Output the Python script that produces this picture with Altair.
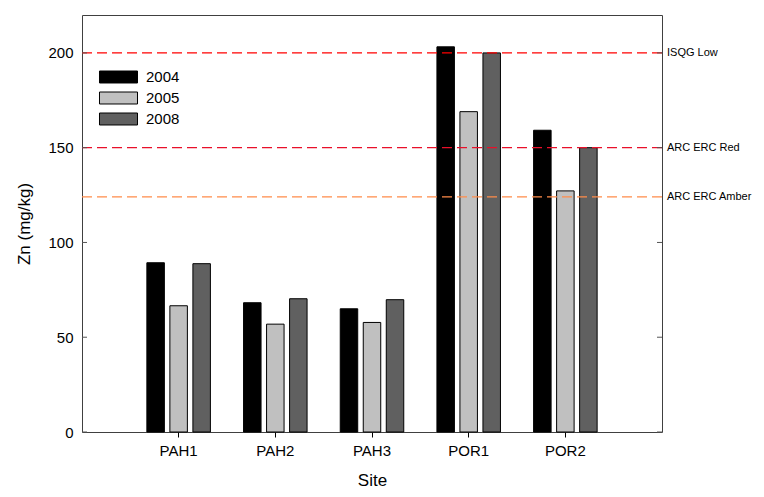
import altair as alt
import pandas as pd

sites = ["PAH1", "PAH2", "PAH3", "POR1", "POR2"]
years = ["2004", "2005", "2008"]
zn_2004 = [89.3, 68.2, 65.0, 203.2, 159.2]
zn_2005 = [66.6, 56.9, 57.8, 169.0, 127.2]
zn_2008 = [88.8, 70.3, 69.8, 200.0, 150.0]
year_colors = ["#000000", "#c0c0c0", "#606060"]

ref_labels = ["ISQG Low", "ARC ERC Red", "ARC ERC Amber"]
ref_values = [200, 150, 124]
ref_colors = ["#ff0000", "#e8102a", "#ff8c4a"]

y_ticks = [0, 50, 100, 150, 200]

rows = []
for yr, vals in zip(years, [zn_2004, zn_2005, zn_2008]):
    for s, v in zip(sites, vals):
        rows.append({"Site": s, "Year": yr, "Zn": v})
df = pd.DataFrame(rows)
refs = pd.DataFrame({"label": ref_labels, "value": ref_values, "color": ref_colors})
ticks = pd.DataFrame({"t": y_ticks})

W, H = 580, 417
FONT = "Liberation Sans"

yscale = alt.Scale(domain=[0, 220], nice=False, zero=True)

bars = alt.Chart(df).mark_bar(stroke="#000000", strokeWidth=1).encode(
    x=alt.X("Site:N", sort=sites, title="Site",
            scale=alt.Scale(paddingInner=0.343, paddingOuter=0.671),
            axis=alt.Axis(labelAngle=0, labelFontSize=15, titleFontSize=17,
                          tickSize=5, tickColor="#000000", labelPadding=6,
                          titlePadding=14, domain=False, grid=False,
                          labelColor="#000000", titleColor="#000000",
                          titleFontWeight="normal")),
    xOffset=alt.XOffset("Year:N", sort=years,
                        scale=alt.Scale(paddingInner=0.24, paddingOuter=0)),
    y=alt.Y("Zn:Q", scale=yscale, title="Zn (mg/kg)",
            axis=alt.Axis(values=y_ticks, ticks=False, labelFontSize=15,
                          titleFontSize=17, labelPadding=9, titlePadding=14,
                          domain=False, grid=False, labelColor="#000000",
                          titleColor="#000000", titleFontWeight="normal")),
    color=alt.Color("Year:N", sort=years,
                    scale=alt.Scale(domain=years, range=year_colors),
                    legend=alt.Legend(title=None, orient="none", legendX=25.5,
                                      legendY=51, labelFontSize=15,
                                      symbolType="M-1.81,-0.571H1.81V0.571H-1.81Z",
                                      symbolSize=441, symbolStrokeColor="#000000",
                                      symbolStrokeWidth=1, rowPadding=2,
                                      labelOffset=16.5, labelColor="#000000")),
)

ref_rules = alt.Chart(refs).mark_rule(strokeDash=[10, 5], strokeWidth=1.3).encode(
    y=alt.Y("value:Q", scale=yscale),
    color=alt.Color("color:N", scale=None),
)

ref_text = alt.Chart(refs).mark_text(align="left", baseline="middle", fontSize=11,
                                     font=FONT, color="#000000").encode(
    x=alt.value(W + 5),
    y=alt.Y("value:Q", scale=yscale),
    text="label:N",
)

left_ticks = alt.Chart(ticks).mark_rule(color="#555555").encode(
    x=alt.value(0), x2=alt.value(5), y=alt.Y("t:Q", scale=yscale))
right_ticks = alt.Chart(ticks).mark_rule(color="#555555").encode(
    x=alt.value(W - 5), x2=alt.value(W), y=alt.Y("t:Q", scale=yscale))

chart = alt.layer(bars, ref_rules, ref_text, left_ticks, right_ticks).properties(
    width=W, height=H,
    autosize=alt.AutoSizeParams(type="none"),
    padding={"left": 74, "top": 7, "right": 94, "bottom": 57},
).configure(font=FONT).configure_view(
    stroke="#404040", strokeWidth=1
)

chart.save("out.html", embed_options={"renderer": "svg", "actions": False})
